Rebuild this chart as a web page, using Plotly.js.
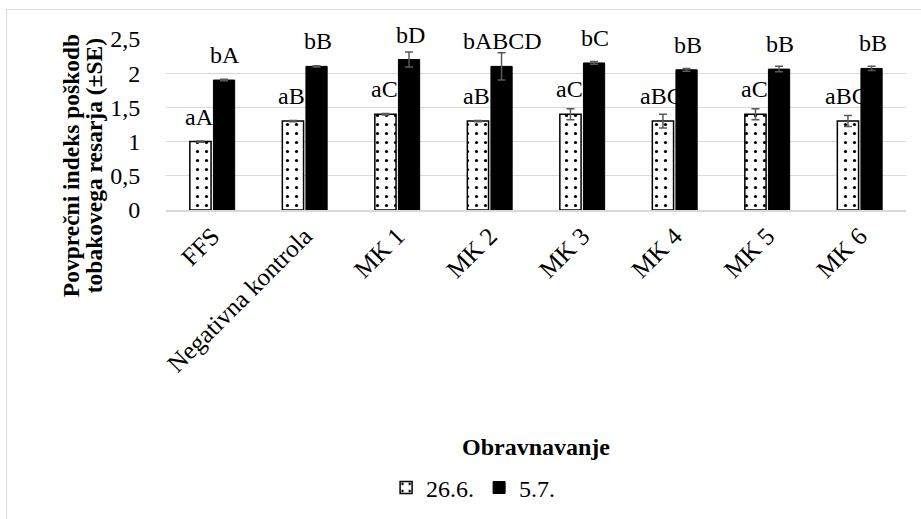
<!DOCTYPE html>
<html>
<head>
<meta charset="utf-8">
<script src="https://cdn.plot.ly/plotly-3.0.1.min.js"></script>
<style>
html,body{margin:0;padding:0;background:#fff;overflow:hidden;}
#wrap{position:relative;width:921px;height:519px;overflow:hidden;}
#chart{width:921px;height:519px;}
#frame{position:absolute;left:6px;top:9px;width:940px;height:540px;border:1.5px solid #d9d9d9;pointer-events:none;}
</style>
</head>
<body>
<div id="wrap"><div id="chart"></div><div id="frame"></div></div>
<script>
var categories = ["FFS", "Negativna kontrola", "MK 1", "MK 2", "MK 3", "MK 4", "MK 5", "MK 6"];
var seriesNames = ["26.6.", "5.7."];
var values266 = [1.0, 1.3, 1.4, 1.3, 1.4, 1.3, 1.4, 1.3];
var err266 = [0.01, 0.01, 0.01, 0.01, 0.08, 0.1, 0.08, 0.08];
var values57 = [1.9, 2.1, 2.2, 2.1, 2.15, 2.05, 2.06, 2.07];
var err57 = [0.01, 0.01, 0.11, 0.2, 0.02, 0.02, 0.04, 0.03];
var labels266 = ["aA", "aB", "aC", "aB", "aC", "aBC", "aC", "aBC"];
var labels57 = ["bA", "bB", "bD", "bABCD", "bC", "bB", "bB", "bB"];
var yTickVals = [0, 0.5, 1, 1.5, 2, 2.5];
var yTickText = ["0", "0,5", "1", "1,5", "2", "2,5"];
var yTitleLines = ["Povprečni indeks poškodb", "tobakovega resarja (±SE)"];
var xTitle = "Obravnavanje";

var FONT = "Liberation Serif";

var trace1 = {
  type: "bar", name: seriesNames[0], x: categories, y: values266,
  marker: {color: "#ffffff", line: {color: "#000000", width: 1.5},
    pattern: {shape: ".", fgcolor: "#000000", bgcolor: "#ffffff", size: 9, solidity: 0.1}},
  error_y: {type: "data", array: err266, visible: true, color: "#595959", thickness: 1.5, width: 4}
};
var trace2 = {
  type: "bar", name: seriesNames[1], x: categories, y: values57,
  marker: {color: "#000000", line: {color: "#000000", width: 1}},
  error_y: {type: "data", array: err57, visible: true, color: "#595959", thickness: 1.5, width: 4}
};

var LBL = 24;
var annotations = [];
categories.forEach(function(c, i){
  annotations.push({x: c, y: values266[i], xref: "x", yref: "y", text: labels266[i], showarrow: false,
    xshift: -13, yshift: 10, yanchor: "bottom", xanchor: "center", font: {family: FONT, size: LBL, color: "#000"}});
  annotations.push({x: c, y: values57[i], xref: "x", yref: "y", text: labels57[i], showarrow: false,
    xshift: 13, yshift: 10, yanchor: "bottom", xanchor: "center", font: {family: FONT, size: LBL, color: "#000"}});
});
annotations.push({xref: "paper", yref: "paper", x: 0.5, y: -1.384, yanchor: "middle", xanchor: "center",
  text: "<b>" + xTitle + "</b>", showarrow: false, font: {family: FONT, size: 24, color: "#000"}});
annotations.push({xref: "paper", yref: "paper", x: 0, y: 0.256, xshift: -95, yanchor: "middle", xanchor: "center",
  textangle: -90, text: "<b>" + yTitleLines[0] + "</b>", showarrow: false,
  font: {family: FONT, size: 23.5, color: "#000"}});
annotations.push({xref: "paper", yref: "paper", x: 0, y: 0.256, xshift: -72, yanchor: "middle", xanchor: "center",
  textangle: -90, text: "<b>" + yTitleLines[1] + "</b>", showarrow: false,
  font: {family: FONT, size: 23.5, color: "#000"}});

var layout = {
  width: 921, height: 519,
  margin: {l: 166, r: 15, t: 39, b: 308},
  paper_bgcolor: "#ffffff", plot_bgcolor: "#ffffff",
  separators: ",.",
  barmode: "group", bargap: 0.49, bargroupgap: 0.1,
  font: {family: FONT, size: 24, color: "#000"},
  showlegend: true,
  legend: {orientation: "h", x: 0.415, xanchor: "center", y: -1.61, yanchor: "middle",
    font: {family: FONT, size: 24, color: "#000"}, itemwidth: 30, traceorder: "normal"},
  xaxis: {type: "category", tickangle: -45, showgrid: false, showline: true, linecolor: "#d9d9d9", linewidth: 1.5,
    ticks: "", tickfont: {family: FONT, size: 25, color: "#000"}, automargin: false},
  yaxis: {range: [0, 2.5], tickvals: yTickVals, ticktext: yTickText, showgrid: true, gridcolor: "#d9d9d9", gridwidth: 1,
    zeroline: false, showline: false, ticks: "outside", ticklen: 20, tickcolor: "rgba(0,0,0,0)",
    tickfont: {family: FONT, size: 24, color: "#000"}, automargin: false},
  annotations: annotations
};

Plotly.newPlot("chart", [trace1, trace2], layout, {displayModeBar: false, staticPlot: true});
</script>
</body>
</html>
